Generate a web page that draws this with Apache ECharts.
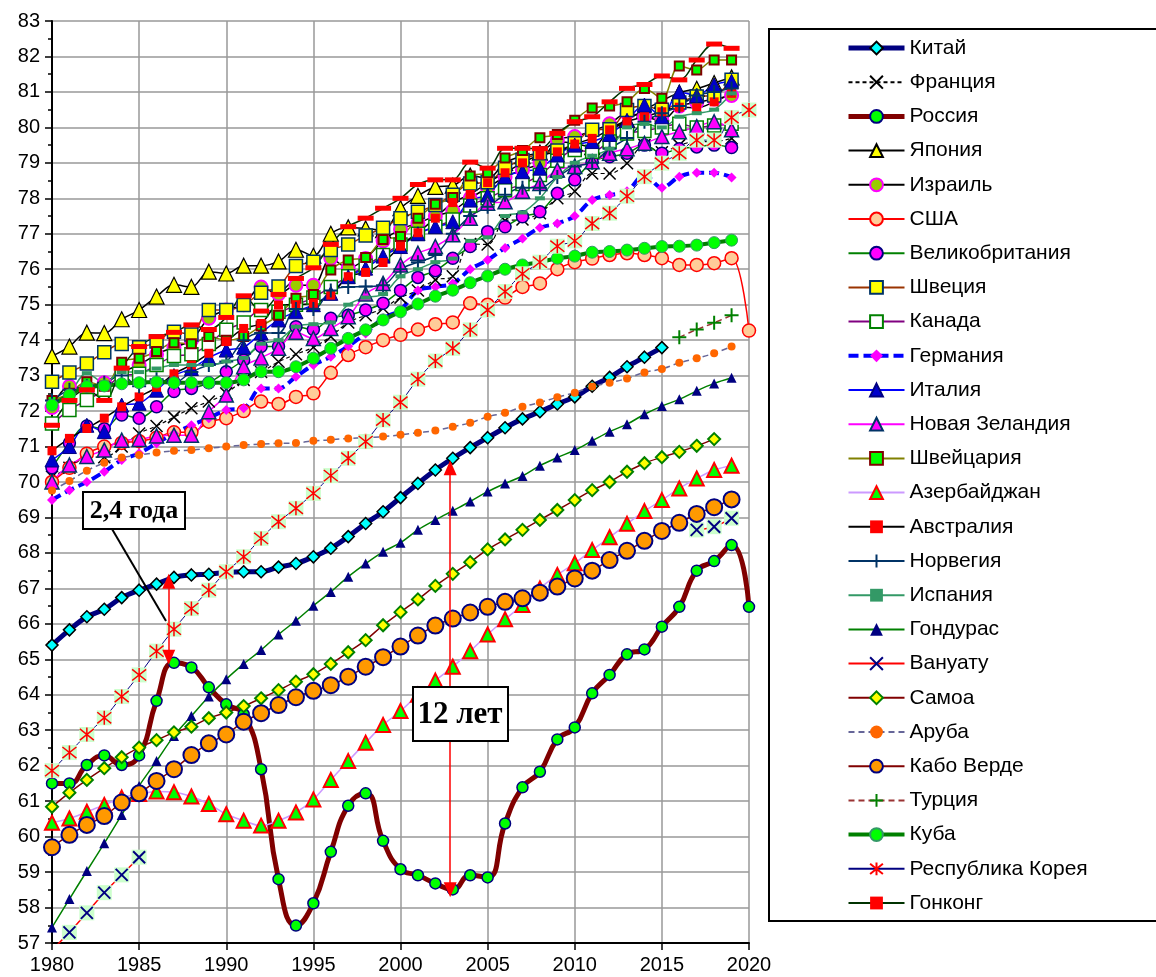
<!DOCTYPE html>
<html><head><meta charset="utf-8">
<script src="https://cdn.jsdelivr.net/npm/echarts@6/dist/echarts.min.js"></script>
<style>html,body{margin:0;padding:0;background:#fff}#c{width:1156px;height:977px}</style>
</head><body><div id="c"></div>
<script>
const years = [];
for (let y = 1980; y <= 2020; y++) years.push(y);
const N = null;

const china = [65.4,65.83,66.2,66.41,66.74,66.95,67.12,67.31,67.38,67.4,67.45,67.47,67.47,67.6,67.7,67.89,68.13,68.46,68.83,69.16,69.56,69.96,70.34,70.67,70.97,71.25,71.53,71.78,71.98,72.2,72.4,72.7,72.95,73.25,73.52,73.79,N,N,N,N,N];
const france = [70.15,70.4,70.7,70.7,71.0,71.37,71.58,71.83,72.08,72.27,72.5,72.88,73.1,73.39,73.6,73.8,74.1,74.5,74.7,74.9,75.2,75.4,75.7,75.8,76.71,76.7,77.37,77.4,77.58,78.0,78.2,78.7,78.7,78.99,79.5,79.3,79.5,79.6,79.6,79.69,N];
const russia = [61.5,61.5,62.02,62.29,62.02,62.29,63.83,64.9,64.77,64.21,63.73,63.45,61.9,58.8,57.49,58.12,59.57,60.87,61.22,59.88,59.08,58.91,58.68,58.51,58.91,58.85,60.37,61.39,61.83,62.74,63.08,64.04,64.56,65.14,65.28,65.92,66.48,67.5,67.77,68.22,66.48];
const japan = [73.55,73.82,74.21,74.2,74.59,74.85,75.23,75.56,75.5,75.93,75.88,76.1,76.1,76.22,76.55,76.38,77.0,77.18,77.15,77.1,77.72,78.07,78.32,78.36,78.64,78.56,79.0,79.19,79.29,79.59,79.55,79.44,79.94,80.21,80.5,80.75,80.98,81.09,81.25,81.41,N];
const israel = [72.1,72.7,72.6,72.8,73.1,73.3,73.6,73.8,74.0,74.62,74.85,75.0,75.5,75.3,75.55,75.55,76.31,76.03,76.3,76.8,77.13,77.3,77.5,77.65,78.0,78.3,78.6,78.8,79.0,79.64,79.74,79.9,80.1,80.4,80.3,80.2,80.6,80.7,80.8,80.9,N];
const usa = [70.0,70.4,70.8,71.0,71.1,71.15,71.25,71.4,71.4,71.7,71.8,72.0,72.27,72.2,72.4,72.5,73.08,73.58,73.8,74.0,74.15,74.3,74.45,74.5,75.04,75.0,75.2,75.5,75.6,76.0,76.2,76.3,76.4,76.45,76.4,76.31,76.12,76.12,76.17,76.31,74.27];
const uk = [70.4,71.1,71.58,71.5,71.89,71.8,72.12,72.55,72.64,72.8,73.11,73.44,73.82,73.82,74.38,74.3,74.62,74.7,74.85,75.04,75.4,75.77,75.96,76.31,76.64,77.06,77.2,77.48,77.62,78.14,78.52,79.03,79.17,79.27,79.5,79.27,79.4,79.45,79.5,79.43,N];
const sweden = [72.83,73.09,73.34,73.66,73.89,73.8,73.96,74.24,74.16,74.85,74.85,74.99,75.34,75.51,76.09,76.21,76.54,76.7,76.95,77.17,77.44,77.62,77.81,78.1,78.42,78.45,78.86,79.08,79.27,79.35,79.55,79.93,79.95,80.49,80.6,80.5,80.7,80.87,80.9,81.34,N];
const canada = [71.65,72.03,72.31,72.6,73.0,73.05,73.3,73.55,73.6,73.89,74.29,74.5,74.85,74.8,75.0,75.2,75.5,75.8,76.1,76.4,76.7,77.0,77.2,77.4,77.8,78.0,78.23,78.4,78.66,79.06,79.36,79.31,79.6,79.83,79.9,80.0,80.1,80.0,80.05,80.1,N];
const germany = [69.49,69.77,70.0,70.29,70.62,70.81,71.09,71.37,71.6,71.8,72.03,72.08,72.64,72.64,72.97,73.3,73.53,73.83,74.19,74.62,74.85,75.4,75.5,75.6,76.0,76.26,76.6,76.87,77.17,77.29,77.5,77.95,78.09,78.2,78.66,78.3,78.61,78.72,78.72,78.59,N];
const italy = [70.62,71.0,71.6,71.42,72.17,72.22,72.59,73.0,73.2,73.5,73.72,73.8,74.2,74.57,74.8,75.0,75.32,75.79,76.03,76.37,76.64,77.0,77.2,77.34,77.95,78.09,78.61,78.75,78.85,79.22,79.5,79.6,79.8,80.2,80.63,80.3,81.0,80.9,81.2,81.3,N];
const newZealand = [70.0,70.48,70.72,70.9,71.18,71.2,71.3,71.32,71.32,71.98,72.45,73.25,73.5,73.77,74.22,74.05,74.33,74.66,75.3,75.6,76.12,76.45,76.64,76.97,77.44,77.86,77.9,78.2,78.42,78.8,78.9,79.03,79.27,79.4,79.55,79.74,79.88,80.02,80.16,79.93,N];
const switzerland = [72.3,72.5,72.83,72.7,73.38,73.49,73.68,73.93,73.9,74.1,74.0,74.1,74.4,74.7,75.18,75.29,75.98,76.26,76.33,76.84,76.92,77.44,77.83,78.02,78.63,78.72,79.14,79.35,79.71,79.8,80.2,80.55,80.6,80.72,81.1,80.82,81.73,81.62,81.9,81.9,N];
const azerbaijan = [60.39,60.51,60.7,60.89,61.1,61.2,61.27,61.25,61.13,60.92,60.63,60.45,60.31,60.45,60.68,61.05,61.6,62.13,62.65,63.15,63.54,64.0,64.4,64.79,65.23,65.7,66.13,66.53,67.0,67.38,67.71,68.08,68.44,68.82,69.18,69.49,69.82,70.1,70.34,70.46,N];
const australia = [70.88,71.23,71.51,71.8,72.12,72.4,72.67,73.05,73.3,73.63,73.96,74.33,74.47,74.99,75.0,75.04,75.27,75.79,75.91,76.19,76.65,77.03,77.44,77.88,78.11,78.44,78.72,79.0,79.22,79.31,79.53,79.69,79.93,80.16,80.3,80.44,80.57,80.55,80.72,80.96,N];
const norway = [72.3,72.6,72.7,72.8,73.0,72.7,72.9,72.8,73.1,73.3,73.4,74.0,74.2,74.2,74.88,74.88,75.4,75.5,75.51,75.55,76.0,76.2,76.4,77.0,77.5,77.76,78.1,78.3,78.3,78.6,78.9,79.0,79.4,79.7,80.16,80.4,80.6,80.9,81.0,81.1,N];
const spain = [72.2,72.5,73.07,72.8,73.1,73.1,73.2,73.3,73.3,73.3,73.4,73.5,73.9,74.0,74.38,74.45,74.5,75.0,75.2,75.3,75.8,76.0,76.2,76.3,76.8,76.9,77.5,77.6,78.0,78.6,79.0,79.2,79.4,80.0,80.1,80.0,80.3,80.4,80.5,80.96,N];
const honduras = [57.44,58.24,59.03,59.81,60.61,61.43,62.13,62.84,63.4,63.95,64.44,64.87,65.26,65.7,66.09,66.51,66.9,67.33,67.7,68.03,68.29,68.65,68.93,69.19,69.45,69.73,69.96,70.17,70.46,70.69,70.9,71.16,71.42,71.63,71.91,72.14,72.33,72.57,72.78,72.94,N];
const vanuatu = [56.8,57.3,57.85,58.42,58.92,59.42,N,N,N,N,N,N,N,N,N,N,N,N,N,N,N,N,N,N,N,N,N,N,N,N,N,N,N,N,N,N,N,68.65,68.74,68.98,N];
const samoa = [60.84,61.24,61.6,61.93,62.24,62.51,62.72,62.94,63.1,63.34,63.5,63.68,63.9,64.13,64.37,64.58,64.87,65.2,65.54,65.96,66.33,66.69,67.07,67.41,67.74,68.1,68.38,68.65,68.93,69.21,69.49,69.77,70.0,70.29,70.53,70.7,70.85,71.02,71.21,N,N];
const aruba = [69.76,70.03,70.32,70.54,70.69,70.76,70.83,70.88,70.9,70.95,71.0,71.04,71.07,71.09,71.1,71.16,71.19,71.23,71.25,71.28,71.33,71.39,71.45,71.56,71.67,71.84,71.95,72.12,72.24,72.39,72.52,72.69,72.8,72.92,73.09,73.19,73.36,73.49,73.63,73.82,N];
const capeVerde = [59.7,60.05,60.33,60.58,60.96,61.22,61.57,61.9,62.3,62.63,62.88,63.24,63.48,63.71,63.93,64.11,64.27,64.51,64.79,65.06,65.36,65.67,65.95,66.15,66.32,66.48,66.62,66.72,66.88,67.05,67.28,67.5,67.8,68.06,68.34,68.62,68.85,69.1,69.29,69.51,N];
const turkey = [N,N,N,N,N,N,N,N,N,N,N,N,N,N,N,N,N,N,N,N,N,N,N,N,N,N,N,N,N,N,N,N,N,N,N,N,74.08,74.3,74.49,74.7,N];
const cuba = [72.17,72.45,72.69,72.71,72.77,72.8,72.82,72.8,72.8,72.8,72.8,72.88,73.11,73.11,73.25,73.49,73.77,74.05,74.29,74.57,74.8,75.02,75.24,75.41,75.62,75.81,76.0,76.12,76.2,76.31,76.37,76.48,76.5,76.54,76.59,76.64,76.65,76.68,76.75,76.82,N];
const korea = [61.86,62.37,62.88,63.35,63.95,64.56,65.23,65.85,66.43,66.95,67.47,67.89,68.41,68.88,69.26,69.68,70.18,70.67,71.14,71.75,72.25,72.9,73.41,73.77,74.29,74.85,75.37,75.87,76.2,76.65,76.8,77.29,77.58,78.06,78.61,78.99,79.27,79.64,79.64,80.28,80.49];
const hongKong = [71.6,72.3,72.6,72.3,73.21,73.82,74.1,74.22,74.43,74.3,74.64,75.25,74.82,75.29,75.74,76.04,76.7,77.2,77.44,77.72,78.0,78.39,78.52,78.52,79.02,78.85,79.41,79.41,79.4,79.83,80.16,80.3,80.72,81.1,81.21,81.45,81.34,81.9,82.35,82.23,N];

const yTicks = {min: 57, max: 83, step: 1};
const xTicks = {min: 1980, max: 2020, step: 5};

// annotation arrows (year, from, to)
const arrow1 = [1986.7, 65.06, 67.2];
const arrow2 = [2002.85, 58.5, 70.4];

const X = 'path://M0,0L10,10M10,0L0,10';
const PLUS = 'path://M5,0L5,10M0,5L10,5';
const AST = 'path://M5,0L5,10M0,1L10,9M10,1L0,9';

function toData(vals) { return years.map((y, i) => [y, vals[i] == null ? '-' : vals[i]]); }
function mk(name, vals, o) {
  const s = {
    name: name, type: 'line', data: toData(vals), smooth: o.smooth == null ? 0.35 : o.smooth,
    symbol: o.symbol, symbolSize: o.size, showSymbol: true, showAllSymbol: true,
    lineStyle: {color: o.line, width: o.lw || 1.5, type: o.dash || 'solid'},
    itemStyle: {color: o.fill, borderColor: o.border || o.fill, borderWidth: o.bw == null ? 1 : o.bw},
    emphasis: {disabled: true}, clip: true, animation: false
  };
  if (o.extra) Object.assign(s, o.extra);
  return s;
}
function bg(name, vals) {
  return {name: name, type: 'line', data: toData(vals), symbol: 'rect', symbolSize: 15, showSymbol: true,
    lineStyle: {opacity: 0, width: 0}, itemStyle: {color: '#CCFFCC'}, silent: true, clip: true,
    emphasis: {disabled: true}, animation: false};
}

const series = [
  mk('Китай', china, {line: '#000080', lw: 5, symbol: 'diamond', size: 12, fill: '#00FFFF', border: '#000', bw: 1.5,
    extra: {markLine: {silent: true, animation: false, symbol: ['triangle', 'triangle'], symbolSize: [13, 15],
      label: {show: false}, lineStyle: {color: '#FF0000', width: 1.5, type: 'solid'},
      data: [
        [{coord: [arrow1[0], arrow1[1]]}, {coord: [arrow1[0], arrow1[2]]}],
        [{coord: [arrow2[0], arrow2[1]]}, {coord: [arrow2[0], arrow2[2]]}]
      ]}}}),
  mk('Франция', france, {line: '#000', lw: 1.2, dash: [4, 3], symbol: X, size: 12, fill: 'transparent', border: '#000', bw: 1.5}),
  mk('Россия', russia, {line: '#800000', lw: 5, symbol: 'circle', size: 11, fill: '#00FF00', border: '#000080', bw: 1.5, smooth: 0.5}),
  mk('Япония', japan, {line: '#000', symbol: 'triangle', size: 15, fill: '#FFFF00', border: '#000', bw: 1.2}),
  mk('Израиль', israel, {line: '#000', symbol: 'circle', size: 13, fill: '#99CC00', border: '#FF00FF', bw: 2}),
  mk('США', usa, {line: '#FF0000', symbol: 'circle', size: 13, fill: '#FFCC99', border: '#FF0000', bw: 1.5}),
  mk('Великобритания', uk, {line: '#008000', symbol: 'circle', size: 12, fill: '#FF00FF', border: '#000080', bw: 1.5}),
  mk('Швеция', sweden, {line: '#993300', symbol: 'rect', size: 13, fill: '#FFFF00', border: '#003366', bw: 1.5}),
  mk('Канада', canada, {line: '#800080', symbol: 'rect', size: 13, fill: '#FFFFFF', border: '#008000', bw: 1.5}),
  mk('Германия', germany, {line: '#0000FF', lw: 4, dash: [10, 5], symbol: 'diamond', size: 10, fill: '#FF00FF', bw: 0}),
  mk('Италия', italy, {line: '#0000FF', symbol: 'triangle', size: 14, fill: '#0000CC', border: '#000080', bw: 1}),
  mk('Новая Зеландия', newZealand, {line: '#FF00FF', symbol: 'triangle', size: 14, fill: '#FF00FF', border: '#003366', bw: 1.5}),
  mk('Швейцария', switzerland, {line: '#808000', symbol: 'rect', size: 9, fill: '#00FF00', border: '#800000', bw: 2}),
  mk('Азербайджан', azerbaijan, {line: '#CC99FF', symbol: 'triangle', size: 14, fill: '#00FF00', border: '#FF0000', bw: 2}),
  mk('Австралия', australia, {line: '#000', symbol: 'rect', size: 9, fill: '#FF0000', bw: 0}),
  mk('Норвегия', norway, {line: '#003366', symbol: PLUS, size: 14, fill: 'transparent', border: '#003366', bw: 2}),
  mk('Испания', spain, {line: '#339966', symbol: 'rect', size: [10, 4], fill: '#339966', bw: 0}),
  mk('Гондурас', honduras, {line: '#008000', symbol: 'triangle', size: 10, fill: '#000080', bw: 0}),
  bg('_bgV', vanuatu),
  mk('Вануату', vanuatu, {line: '#FF0000', symbol: X, size: 12, fill: 'transparent', border: '#000080', bw: 2}),
  mk('Самоа', samoa, {line: '#800000', symbol: 'diamond', size: 12, fill: '#FFFF00', border: '#008000', bw: 2}),
  mk('Аруба', aruba, {line: '#666699', lw: 1.5, dash: [6, 4], symbol: 'circle', size: 8, fill: '#FF6600', bw: 0}),
  mk('Кабо Верде', capeVerde, {line: '#800000', symbol: 'circle', size: 16, fill: '#FF9900', border: '#000080', bw: 2}),
  mk('Турция', turkey, {line: '#993333', dash: [6, 4], symbol: PLUS, size: 14, fill: 'transparent', border: '#008000', bw: 2}),
  mk('Куба', cuba, {line: '#008000', lw: 4, symbol: 'circle', size: 12, fill: '#00FF00', border: '#339966', bw: 1}),
  bg('_bgK', korea),
  mk('Республика Корея', korea, {line: '#000080', lw: 1, symbol: AST, size: 14, fill: 'transparent', border: '#FF0000', bw: 1.5}),
  mk('Гонконг', hongKong, {line: '#003300', symbol: 'rect', size: [16, 5], fill: '#FF0000', bw: 0})
];

const thickLegend = {'Китай': 5, 'Россия': 5, 'Германия': 4, 'Куба': 4};
const legendData = series.map(s => s.name).filter(n => n[0] !== '_').map(n =>
  thickLegend[n] ? {name: n, lineStyle: {width: thickLegend[n]}} : {name: n});
const FONT = '"Liberation Sans", Arial, sans-serif';

const chart = echarts.init(document.getElementById('c'), null, {renderer: 'canvas'});
chart.setOption({
  animation: false,
  backgroundColor: '#fff',
  grid: {left: 52, top: 21, width: 697, height: 922, containLabel: false},
  xAxis: {type: 'value', min: xTicks.min, max: xTicks.max, interval: xTicks.step,
    axisLine: {show: true, lineStyle: {color: '#000', width: 2}},
    axisTick: {show: true, length: 7, lineStyle: {color: '#000', width: 1.5}},
    axisLabel: {fontSize: 20, color: '#000', fontFamily: FONT, margin: 12, formatter: v => String(v)},
    splitLine: {show: true, lineStyle: {color: '#999', width: 1.5}}},
  yAxis: {type: 'value', min: yTicks.min, max: yTicks.max, interval: yTicks.step,
    axisLine: {show: true, lineStyle: {color: '#000', width: 2}},
    axisTick: {show: true, length: 7, lineStyle: {color: '#000', width: 1.5}},
    minorTick: {show: true, splitNumber: 2, length: 4, lineStyle: {color: '#000', width: 1.5}},
    axisLabel: {fontSize: 20, color: '#000', fontFamily: FONT, margin: 12, formatter: v => String(v)},
    splitLine: {show: true, lineStyle: {color: '#999', width: 1.5}}},
  legend: {data: legendData, orient: 'vertical', left: 846, top: 37.5, padding: 0, itemWidth: 56, itemHeight: 16, itemGap: 13.2,
    selectedMode: false, textStyle: {fontSize: 21, fontFamily: FONT, color: '#000', lineHeight: 21}},
  graphic: [
    {type: 'rect', shape: {x: 769, y: 29, width: 420, height: 892}, style: {fill: 'none', stroke: '#000', lineWidth: 2}, z: 1, silent: true},
    {type: 'line', shape: {x1: 112, y1: 529, x2: 166, y2: 621}, style: {stroke: '#000', lineWidth: 2}, z: 100, silent: true},
    {type: 'rect', shape: {x: 83, y: 492, width: 102, height: 37}, style: {fill: '#fff', stroke: '#000', lineWidth: 2}, z: 100, silent: true},
    {type: 'text', x: 134, y: 511, style: {text: '2,4 года', font: 'bold 26px "Liberation Serif", "Times New Roman", serif', fill: '#000', align: 'center', verticalAlign: 'middle'}, z: 101, silent: true},
    {type: 'rect', shape: {x: 413, y: 687, width: 95, height: 54}, style: {fill: '#fff', stroke: '#000', lineWidth: 2}, z: 100, silent: true},
    {type: 'text', x: 460, y: 715, style: {text: '12 лет', font: 'bold 31px "Liberation Serif", "Times New Roman", serif', fill: '#000', align: 'center', verticalAlign: 'middle'}, z: 101, silent: true}
  ],
  series: series
});
</script>
</body></html>
